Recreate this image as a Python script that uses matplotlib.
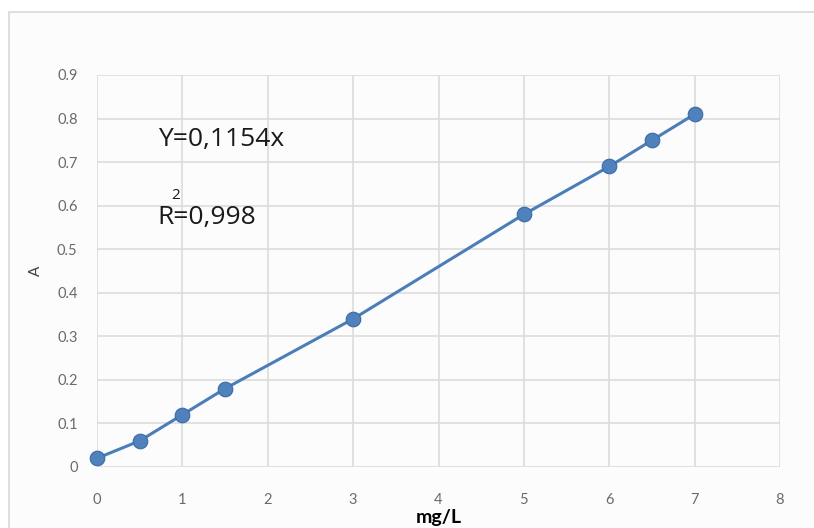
import matplotlib
matplotlib.use("Agg")
import matplotlib.pyplot as plt
from matplotlib.patches import Rectangle

# calibration data
conc = [0, 0.5, 1, 1.5, 3, 5, 6, 6.5, 7]
absorb = [0.02, 0.06, 0.12, 0.18, 0.34, 0.58, 0.69, 0.75, 0.81]
x_ticks = [0, 1, 2, 3, 4, 5, 6, 7, 8]
y_ticks = [0, 0.1, 0.2, 0.3, 0.4, 0.5, 0.6, 0.7, 0.8, 0.9]
y_labels = ["0", "0.1", "0.2", "0.3", "0.4", "0.5", "0.6", "0.7", "0.8", "0.9"]

plt.rcParams['font.family'] = ['Lato', 'DejaVu Sans']

fig = plt.figure(figsize=(8.14, 5.28), dpi=100)
fig.patch.set_facecolor("white")
# chart frame
fig.patches.append(Rectangle((9 / 814, -0.01), 1.0, 1 - 12 / 528 + 0.01,
                             transform=fig.transFigure, facecolor="#fcfcfc",
                             edgecolor="#d9d9d9", linewidth=1.2, zorder=-10))

ax = fig.add_axes([97 / 814, 1 - 467 / 528, (780 - 97) / 814, (467 - 75) / 528])
ax.set_zorder(1)
ax.set_facecolor("#fcfcfc")
ax.set_xlim(0, 8)
ax.set_ylim(0, 0.9)
ax.set_xticks(x_ticks)
ax.set_yticks(y_ticks)
ax.set_yticklabels(y_labels)
ax.grid(True, color="#dcdcdc", linewidth=1.2)
ax.set_axisbelow(True)
for s in ax.spines.values():
    s.set_visible(False)
ax.tick_params(length=0, colors="#6a6a6a", labelsize=10.5)
ax.tick_params(axis="x", pad=19)
ax.tick_params(axis="y", pad=14)

ax.plot(conc, absorb, color="#4a7ebb", linewidth=2.2, marker="o", markersize=10.5,
        markerfacecolor="#4f81bd", markeredgecolor="#3a6aa5", markeredgewidth=0.8,
        clip_on=False, zorder=3)

eq_font = ['Open Sans', 'DejaVu Sans']
ax.text(0.71, 0.751, "Y=0,1154x", fontsize=19, color="#1a1a1a", va="center", family=eq_font)
ax.text(0.71, 0.572, "R=0,998", fontsize=19, color="#1a1a1a", va="center", family=eq_font)
ax.text(0.925, 0.624, "2", fontsize=11, color="#1a1a1a", va="center", ha="center", family=eq_font)

ax.set_xlabel("mg/L", fontsize=14, fontweight="bold", labelpad=1)
ax.set_ylabel("A", fontsize=11, color="#404040", labelpad=10)

fig.savefig("out.png", dpi=100)
